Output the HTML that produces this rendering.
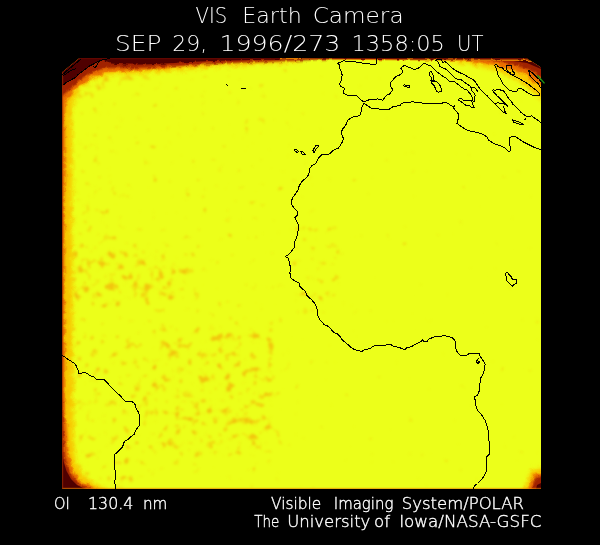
<!DOCTYPE html>
<html>
<head>
<meta charset="utf-8">
<title>VIS Earth Camera</title>
<style>
html,body{margin:0;padding:0;background:#000;}
body{width:600px;height:545px;overflow:hidden;}
svg{display:block;}
.t{font-family:"DejaVu Sans","Liberation Sans",sans-serif;font-weight:200;fill:#fff;}
.s{stroke:#fff;stroke-width:0.35;}
</style>
</head>
<body>
<svg width="600" height="545" viewBox="0 0 600 545">
<defs>
<clipPath id="cp"><polygon points="79.7,58 526,58 541,67.5 541,489 62,489 62,72.5"/></clipPath>
<filter id="b05" x="-20%" y="-20%" width="140%" height="140%"><feGaussianBlur stdDeviation="0.6"/></filter>
<filter id="b1" x="-20%" y="-20%" width="140%" height="140%"><feGaussianBlur stdDeviation="1.2"/></filter>
<filter id="b2" x="-20%" y="-20%" width="140%" height="140%"><feGaussianBlur stdDeviation="2.2"/></filter>
<filter id="mot" x="62" y="58" width="479" height="431" filterUnits="userSpaceOnUse" color-interpolation-filters="sRGB">
<feGaussianBlur in="SourceGraphic" stdDeviation="7" result="dens"/>
<feTurbulence type="fractalNoise" baseFrequency="0.12" numOctaves="2" seed="11" result="n0"/>
<feColorMatrix in="n0" type="matrix" values="1 0 0 0 0  1 0 0 0 0  1 0 0 0 0  0 0 0 0 1" result="n"/>
<feComposite in="n" in2="dens" operator="arithmetic" k1="0" k2="1" k3="0.33" k4="0" result="sum"/>
<feColorMatrix in="sum" type="matrix" values="0 0 0 0 0.955  -0.6 0 0 0 1.28  0 0 0 0 0.03  4.5 0 0 0 -3.5"/>
<feComponentTransfer><feFuncA type="table" tableValues="0 0.7"/></feComponentTransfer>
<feGaussianBlur stdDeviation="0.9"/>
</filter>
<filter id="disp" filterUnits="userSpaceOnUse" x="30" y="30" width="540" height="490"><feTurbulence type="fractalNoise" baseFrequency="0.14" numOctaves="2" seed="3" result="t"/><feDisplacementMap in="SourceGraphic" in2="t" scale="6" xChannelSelector="R" yChannelSelector="G"/></filter>
<filter id="disp2" filterUnits="userSpaceOnUse" x="30" y="30" width="540" height="490"><feTurbulence type="fractalNoise" baseFrequency="0.18" numOctaves="2" seed="8" result="t"/><feDisplacementMap in="SourceGraphic" in2="t" scale="4.5" xChannelSelector="R" yChannelSelector="G"/></filter>
</defs>
<rect width="600" height="545" fill="#000"/>
<g id="txt">
<text class="t" x="195.60" y="22.6" font-size="21.5" textLength="31.72" lengthAdjust="spacingAndGlyphs">VIS</text>
<text class="t" x="242.30" y="22.6" font-size="21.5" textLength="59.42" lengthAdjust="spacingAndGlyphs">Earth</text>
<text class="t" x="312.70" y="22.6" font-size="21.5" textLength="90.90" lengthAdjust="spacingAndGlyphs">Camera</text>
<text class="t" x="115.00" y="50.8" font-size="21.5" textLength="46.44" lengthAdjust="spacingAndGlyphs">SEP</text>
<text class="t" x="172.30" y="50.8" font-size="21.5" textLength="34.87" lengthAdjust="spacingAndGlyphs">29,</text>
<text class="t" x="219.40" y="50.8" font-size="21.5" textLength="120.97" lengthAdjust="spacingAndGlyphs">1996/273</text>
<text class="t" x="351.50" y="50.8" font-size="21.5" textLength="93.39" lengthAdjust="spacingAndGlyphs">1358:05</text>
<text class="t" x="457.10" y="50.8" font-size="21.5" textLength="26.40" lengthAdjust="spacingAndGlyphs">UT</text>
<text class="t s" x="54.00" y="509.2" font-size="15" textLength="15.78" lengthAdjust="spacingAndGlyphs">OI</text>
<text class="t s" x="88.00" y="509.2" font-size="15" textLength="45.38" lengthAdjust="spacingAndGlyphs">130.4</text>
<text class="t s" x="143.00" y="509.2" font-size="15" textLength="24.35" lengthAdjust="spacingAndGlyphs">nm</text>
<text class="t s" x="271.00" y="509.2" font-size="15" textLength="50.19" lengthAdjust="spacingAndGlyphs">Visible</text>
<text class="t s" x="333.80" y="509.2" font-size="15" textLength="59.54" lengthAdjust="spacingAndGlyphs">Imaging</text>
<text class="t s" x="401.80" y="509.2" font-size="15" textLength="122.08" lengthAdjust="spacingAndGlyphs">System/POLAR</text>
<text class="t s" x="254.25" y="526.8" font-size="15.5" textLength="25.04" lengthAdjust="spacingAndGlyphs">The</text>
<text class="t s" x="287.25" y="526.8" font-size="15.5" textLength="83.11" lengthAdjust="spacingAndGlyphs">University</text>
<text class="t s" x="374.00" y="526.8" font-size="15.5" textLength="16.02" lengthAdjust="spacingAndGlyphs">of</text>
<text class="t s" x="399.20" y="526.8" font-size="15.5" textLength="142.37" lengthAdjust="spacingAndGlyphs">Iowa/NASA-GSFC</text>
</g>
<g clip-path="url(#cp)">
<rect x="62" y="58" width="479" height="431" fill="#ecff1a"/>
<g id="mottle" filter="url(#mot)">
<rect x="40" y="40" width="520" height="470" fill="#000"/>
<rect x="62" y="58" width="240" height="431" fill="#383838"/>
<rect x="30" y="58" width="46" height="431" fill="#ffffff"/>
<rect x="62" y="248" width="130" height="58" fill="#d0d0d0"/>
<rect x="140" y="325" width="135" height="130" fill="#c0c0c0"/>
<rect x="62" y="180" width="60" height="70" fill="#909090"/>
<rect x="62" y="330" width="90" height="160" fill="#909090"/>
<rect x="62" y="100" width="50" height="80" fill="#606060"/>
<rect x="298" y="225" width="45" height="90" fill="#808080"/>
<polygon points="62,40 210,40 210,64 160,72 115,85 62,110" fill="#e0e0e0"/>
</g>
<g id="edges">
<g id="edisp" filter="url(#disp)">
<g filter="url(#b2)" fill="#f8c800">
<polygon points="40,40 300,40 300,62 260,64 220,66 190,69 160,72 130,74 105,76 90,80 80,88 73,100 72,115 72,140 72,200 72.5,300 73,400 73,440 77,465 88,480 106,489 106,505 40,505"/>
<polygon points="420,40 560,40 560,100 541,100 530,90 518,80 500,72 480,66 450,61"/>
<polygon points="525,505 525,489 528,476 534,469 541,467 560,467 560,505"/>
</g>
<g filter="url(#b1)" fill="#ea7000">
<polygon points="40,40 230,40 230,61 200,63.5 175,66.5 150,69.5 125,71.5 105,73 94,76.5 84,82 76,89 70,96 65.5,103 64.5,200 64.5,300 65.5,400 67,430 69,455 73,470 80,481 97,489 97,505 40,505"/>
<polygon points="455,40 560,40 560,86 541,86 530,78 515,70 495,65 470,61 455,59"/>
<polygon points="529,505 529,489 532,479 537,474 541,472 560,472 560,505"/>
</g>
</g>
<g filter="url(#disp2)"><g filter="url(#b1)" fill="#a02000">
<polygon points="40,40 340,40 340,58.5 300,60.5 260,62 220,63.5 190,65.3 160,67 130,68 110,68 100,69.5 90,73 82,78.5 74,86 67,92 62,96 40,96"/>
<polygon points="40,400 62,400 63.5,430 65,455 68,468 74,479 82,486 92,489 92,505 40,505"/>
<polygon points="470,40 560,40 560,77 541,77 530,70 512,64 490,60.5 470,58.5"/>
<polygon points="532,505 532,489 534,481 538,477 541,476 560,476 560,505"/>
</g>
<g filter="url(#b05)" fill="#500500"><polygon points="100,40 340,40 340,58.2 300,59.3 250,60 210,61 185,62.3 165,63.5 145,64.5 125,64.5 110,63.5 105,62"/></g>
</g>
<g filter="url(#b05)" fill="#500500">
<polygon points="40,40 112,40 112,58 105,59.5 100,61 93,64 89,66.5 85,69 82,71.5 78.5,74.5 76,77 72.5,79 69,81 65.5,83.3 62.5,85.8 40,86"/>
<polygon points="40,452 62,452 64,463 66.5,471 71,479 77,485 85,489 85,505 40,505"/>
<polygon points="485,40 560,40 560,69 541,69 527,63 510,60.5 485,58.5"/>
<polygon points="536,505 536,489 537,485 541,483 560,483 560,505"/>
</g>
<rect x="62" y="58" width="479" height="1.2" fill="#6a0a00" opacity="0.7"/>
<g filter="url(#disp2)"><g filter="url(#b05)"><polygon points="280,40 541,40 541,61 470,60.8 430,60.6 380,60.2 330,59.6 300,59.3 280,59.6" fill="#e07a00"/><polygon points="300,40 541,40 541,59.6 470,59.6 420,59.4 380,59 330,58.8 300,58.6" fill="#6a0d00"/></g></g>
<rect x="62" y="487.8" width="479" height="1.2" fill="#e88000" opacity="0.6"/>
<rect x="62" y="58" width="1.2" height="431" fill="#9a2800" opacity="0.7"/>
</g>
<g id="coast" fill="none" stroke="#000" stroke-width="1" shape-rendering="crispEdges">
<path d="M376.5,57.3 376.9,61.1 376.2,64 372.4,64.3 364.7,63.4 359.5,62.7 354.4,61.8 348,61.8 343.5,60.5 340.3,62.7 337.4,63.1 339.6,65 340,68.8 341.6,72.7 342.2,75.3 341.6,78.5 340.9,81.7 339.6,83.6 340.3,86.2 342.8,87.5 344.1,88.1 343.9,93.2 345.4,94.5 349.9,95.8 355.7,95.2 358.3,97.1 361.5,100.3 364,102 367.2,100.3 371.1,99.4 377.5,99 381.4,99.4 382.7,100.3 384.6,97.7 386.5,95.2 389.7,93.9 392.9,90 390.4,86.2 390.4,83 393.6,79.1 396.1,76.5 398.9,75.3 401.4,74 402.7,71.4 400.8,68.2 402.1,66.9 404.6,65.2 407.8,66.9 411.7,68.2 414.3,69.5 418.1,68.2 420.7,66.3 422.6,64.3 424.5,63.4 427.1,64.7 430.3,65.6 433.3,68.4 435.1,70.2 437.8,72.5 440.1,74.3 443.3,76.6 446.5,78.5 449.4,81.3 454.5,81.7 457.5,83.9 460.4,86.4 464.1,89 467,90.1 469.2,92.7 471.1,94.9 472.2,97.1 472.5,100 473.5,101.8 474.6,101 475.1,99 474.7,97.8 475.1,95.6 474.4,93.4 472.9,92 471.1,90.5 471.1,87.5 472.5,87.2 474.4,87.5 475.8,88.6 477.3,90.8 478.4,92.3"/>
<path d="M471.1,87.5 470.3,86.4 468.5,85 466.3,83.5 463.3,81.3 461.1,79.8 457.5,79.1 455.3,78 452.5,75.7 450.2,73.4 447.9,70.7 445.2,68.8 442,67.5 439.7,66.1 438.8,63.3 437.5,61.5 436,60.3"/>
<path d="M435,60.3 437,59.5 441,59.2 442,61 442.4,62.4 443.3,62.9 444.7,61.5"/>
<path d="M444.7,61.5 447,62.9 449.3,65.2 451.6,67.5 454.4,69.8 456.7,71.1 459.4,72.5 462.6,73.9 465.4,75.3 468.1,77.1 470,78 472.9,79.5 475.1,81.7 476.6,83.9 478,86.1 480.2,89 482.4,91.6 485,93.8 487.5,96.1 490.3,99.4 493,102.1 495.8,104.9 498.5,107.6 501.3,110.4 504,112.7 506.8,114"/>
<path d="M459.3,98.6 461.5,98.6 463,100 467,100 471.4,100 472.5,103.3 473.3,105.5 474.4,107.4 472.9,108.1 471.1,107 469.2,105.5 465.6,105.2 463.3,103.3 460.8,101.5 458.6,100 459.3,98.6"/>
<path d="M430.5,71.1 429.1,73 430,75.7 431.9,78 430.5,80.8 433.7,80.8 433.3,78.5 433.3,75.7 431.9,72.5 430.5,71.1"/>
<path d="M431.4,81.7 431.4,83.1 433.7,84.9 435.1,87.7 436.5,91.3 438.8,92.2 441.5,91.3 441.1,88.1 439.7,84.9 436.9,82.1 434.2,80.8 431.4,81.7"/>
<path d="M364,103.5 367.2,105.4 371.1,108 376.2,108.7 381.4,109.3 385.2,110 389.1,109.3 392.9,106.7 400,105.4 402.1,103.1 412.2,101.8 423.2,103.1 432.4,103.6 440.6,103.6 445,102.2 447.9,103.3 450.5,105.5 452.3,106.3 454.2,105.9 453.8,108.1 455.3,110.3 457.1,112.1 458.6,114.3 458.6,118 457.5,121 457,123.5 460,125.6 465.4,129.3 470,131.1 475,131.9 480.1,133.2 484,135.1 487.2,137 488.5,140.2 491.7,142.2 495.5,144.1 500.7,146 505.8,148.6 509,151.8 511,150.5 510.3,146.7 509,141.5 509,137.7 512.2,136.4 516.1,137 520,139.6 523.8,142.2 527.7,144.1 531.5,146 535.4,147.9 539.2,149.2 542,150"/>
<path d="M364,103.5 362.1,106.7 361.5,110 360.2,115.1 357.6,116.4 353.1,117 350.5,118.3 348,120.2 345.4,125.8 342.2,129.6 341.5,132.8 342.2,136.1 343.4,138 342.8,141.2 340.9,144.4 338.3,148.3 335.1,149.3 331.9,151.5 329.3,154 326.1,154.4 322.2,154.4 319.7,156.6 317.8,159.2 316.5,162.4 314.5,164.3 312,165.6 310,168.2 309.4,171.4 308.8,173.9 307.5,176.5 305.5,178.4 303,180.4 300.4,183.6 298.9,186.8 297.9,190.1 296,193.3 292.8,197.2 291.5,201.1 291.5,204.3 294,208.1 297.2,211.3 297.2,215.2 294.7,217.8 296,219.7 297.9,223.5 298.5,227.4 297.9,231.9 296.6,237.7 294.7,241.5 294.4,245 294.4,247.5 291.8,250.8 289.3,254 285.4,256.6 288,257.8 289.3,261.7 290.5,268.1 289.9,272.6 290.5,277.8 293.8,280.3 297,282.2 298.9,282.9 299.5,286.1 302.1,288.7 305.3,291.2 306.6,295.1 309.2,297.7 311.9,300 315.1,303.9 317.1,309 317.7,315.4 320.3,320.5 324.1,324.4 328,326.3 331.2,329.5 334.4,332.8 337.6,334 340.2,336.6 341.5,339.2 345.3,342.4 348.5,345 351.1,347.5 354.3,349.4 358.2,350.7 362,351.4 365.2,349.4 369.7,348.8 372.3,346.9 374.9,345.2 380.3,345.4 386.1,345 388,344.1 390.5,344.4 393.8,346.3 397.6,347.2 401.5,348.3 404.7,349.5 407.2,347.6 411.1,346.7 414.3,345 417.5,343.1 420.7,341.6 422.7,339.9 423.9,341.2 427.2,341.2 429.1,338.6 431.6,338 434.2,337 438.9,336.4 444,335.7 447.8,336.4 451.7,337.3 454.9,340.5 455.5,345 456.2,350.2 458.1,353.4 460.7,355.3 466.5,355.3 468.4,354 472.2,353.4 479.3,353.4 480,356 481.9,358.5 483.8,361.7 485.1,364.3 484.4,368.2 483.8,372.7 481.9,375.9 480,379.1 480,382.9 479.7,387.7 479,391.6 477.8,394.8 474.5,396.7 475.2,400.5 475.8,405.7 477.8,410.8 481,414 483.5,417.9 485.5,421.1 486.7,425 488,430.1 488.5,435.2 488.5,440 489.5,442 489.5,454 487,456.5 486.5,458 486.5,468 487,469 486,472 484.5,475.5 482,479 479.5,481.5 477.5,483.5 475,485.5 473.5,487.5 472.5,490"/>
<path d="M403.3,85.5 404.6,84.9 407.2,85.5 409.1,85.8 409.4,87.1 407.2,87.1 405.3,86.6 403.3,85.5"/>
<path d="M294.2,149.8 296.5,149.6 298.6,151.2 297.8,152.8 295.5,151.5 294.2,149.8"/>
<path d="M300.8,151.2 302.5,151.5 304.3,153.5 305.2,154.6 302.5,154.4 301.2,153 300.8,151.2"/>
<path d="M314,152.4 313,150.5 314.5,147.5 316,145.5 318.4,145.5 318.4,146.8 316.2,148.4 315.5,150.5 314,152.4"/>
<path d="M478.5,358.5 477,360.5 476.8,362.5 478,363.5 479.3,362.5 479,361 477.5,361"/>
<path d="M505.6,273.2 507.5,272.5 509.3,274.7 511.1,276.5 511.5,278.3 513,279.4 517,279.4 516.7,282 515.9,283.9 514.1,284.2 512.6,286.1 510.8,284.6 508.9,282.8 507.1,280.9 506.4,279.1 506,276.1 505.3,274.3 505.6,273.2"/>
<path d="M492.3,90.3 493.3,89.9 495.3,90.6 496.6,89.3 499.2,89.3 501.2,90.3 503.2,90.6 504.5,92.3 505.8,93.9 506.5,95.6 507.8,97.2 509.1,98.9 510.5,100.5 511.8,102.2 513.1,103.8 514.4,105.5 515.7,106.8 517.4,108.1 519,110.1 520.7,112.1 522.3,113.4 524,114.4 525.1,115.8 528.9,116.5 531.5,115.8 534.1,117.8 537.9,120.3 540.5,122.2 542,123"/>
<path d="M512.2,119.7 516.1,121 520,122.2 523.2,124.2 521.2,124.8 517.4,123.5 513.5,122.2 512.2,119.7"/>
<path d="M524.5,118.5 525.8,118.5 525.8,119.8 524.5,119.8 524.5,118.5"/>
<path d="M495.3,103.5 497.9,102.8 500.5,103.2 503.2,103.8 505.5,104.5 507.2,105.8 506.8,107.4"/>
<path d="M494.5,64.6 497,64.6 497.6,66.5 500,67.5 502.5,67.5 503.5,69.5 506,71 509,73 512,75 516,77 520,79.2 524,81.5 528,83.8 531,86.5 534,88.6 536.5,90.6 539,93.2 539.6,95.4 536,96 532,95 528,93 524,90.5 522.3,89 520.4,88.3 518.4,88.6 517.4,90.6 516.4,91.9 514.4,91.9 512.4,91.3 510.5,90.6 508.5,89.9"/>
<path d="M494.5,64.6 495.6,67.1 497.1,71.1 497.6,74.1 499.6,77.7 500.6,79.2 503.2,84 505.2,86 507.2,88.3 508.5,89.9"/>
<path d="M506.1,66.1 508.7,65.3 511.2,65.6 511.7,68.1 512.7,71.1 514.7,73.1 514.2,74.1 511.7,74.7 510.2,72.6 507.7,71.1 506.1,69.1 506.1,66.1"/>
<path d="M540.8,81.5 538.6,78.8 536.8,77.3 534.6,75.3 532.4,73 530.4,71.5 528.5,70.5 529,72 529.5,75 531.3,77.3 533.7,79.7 536.4,82.1 538.6,84.3 539.7,86.5 540.8,87.5"/>
<path d="M61.5,355.3 64.4,356.7 67.3,358.9 71,361.1 75.4,364.1 76.9,367.8 78.3,370.7 78.3,373.6 80.6,373.6 84.2,372.2 87.2,373.6 90.1,375.8 93.8,376.6 96.7,379.5 104,379.5 107,382.4 111.4,387.6 115.8,392 120.2,395.5 122,397.8 125.2,401.4 131.7,401.4 134.4,403.3 135.3,405.1 136.2,408.3 138.1,411.5 139,414.3 139.4,417 139.4,425.3 137.6,427.6 135.8,430.3 134.4,434 132.1,435.8 129.8,437.7 128,439.5 125.2,440.9 123.9,442.7 122.4,447.3 119.1,450.6 114.9,454.3 114.3,464.1 115.4,472.6 114.9,482.7 115.4,490"/>
<path d="M62.8,75.7 65.5,74.3 68.3,72.1 71,70.2 73.8,69.8 76.1,68.4"/>
<path d="M62,75 64.8,72.6 67.5,70.3 70.3,68 73,65.7 75.8,63.4 78.5,61.1 81.5,58.5"/>
<path d="M62.8,85.4 65.5,83.1 69.2,80.8 72.8,78.9 76.1,77.1 78.3,74.3 82,71.6 85.7,68.8 89.4,66.1 93,64.3 96.7,62 101.3,60.1 105.9,59.2 110,58.3"/>
<path d="M93,66.1 94.9,67.5 96.7,66.1 97.6,63.3 99.4,61.5 102.2,59.7"/>
<path d="M226,84 228.3,86"/>
<path d="M241,88.5 246,88.5"/>
<path d="M492.3,90.3 494.6,93.2 497.2,95.9 499.9,98.5 502.5,100.8 504.8,103.2 506.5,105.1 507.5,107.1"/>
<path d="M503.2,106.5 504.2,108.8 504.8,111.1 505.8,113.1 507.2,114.4"/>
<path d="M508.6,98.8 509.8,100"/>
<path d="M512.6,104 513.8,105.2"/>
</g>
</g>
<path id="green" d="M537.3,75.3 L544.5,83.4" stroke="#1f9a16" stroke-width="1.3" fill="none"/>
</svg>
</body>
</html>
